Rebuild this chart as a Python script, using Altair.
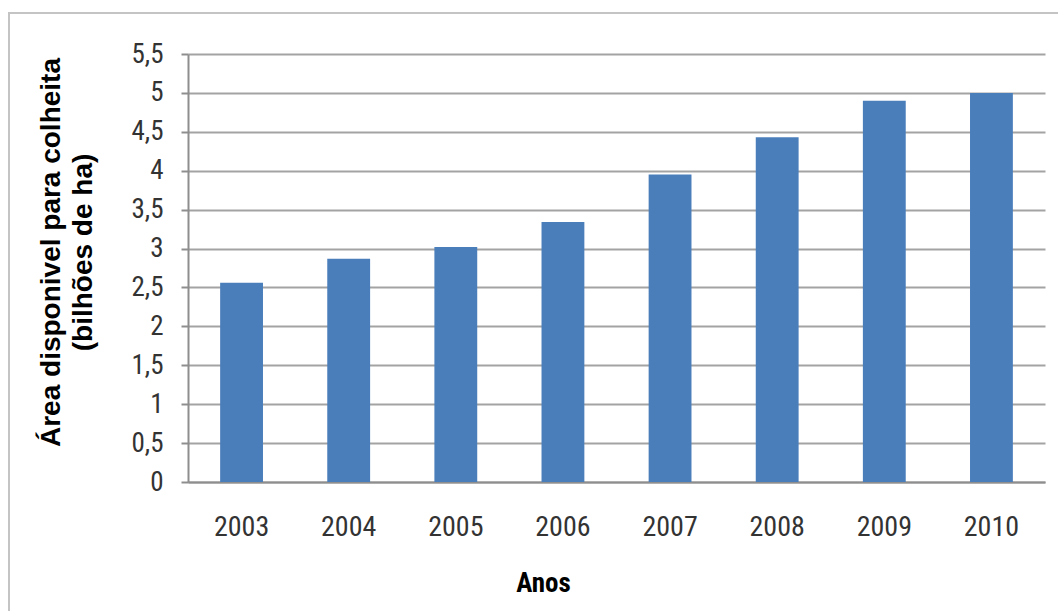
import altair as alt
import pandas as pd

# Harvest area by year (billions of ha)
anos = ["2003", "2004", "2005", "2006", "2007", "2008", "2009", "2010"]
area = [2.56, 2.87, 3.02, 3.34, 3.95, 4.43, 4.90, 5.00]
y_ticks = [0, 0.5, 1, 1.5, 2, 2.5, 3, 3.5, 4, 4.5, 5, 5.5]

df = pd.DataFrame({"ano": anos, "area": area})

PLOT_W, PLOT_H = 857, 428
LEFT, TOP = 188, 54

NUM_FONT = "Roboto Condensed, Roboto, sans-serif"
SANS = "Liberation Sans, Arial, sans-serif"
AXIS_GRAY = "#8e8e8e"

# light frame around the whole figure
frame = alt.Chart(pd.DataFrame({"k": [0]})).mark_rect(
    fill="transparent", stroke="#c4c4c4", strokeWidth=2
).encode(
    x=alt.value(9 - LEFT),
    x2=alt.value(1075 - LEFT),
    y=alt.value(13 - TOP),
    y2=alt.value(630 - TOP),
)

bars = alt.Chart(df).mark_bar(color="#4a7ebb").encode(
    x=alt.X(
        "ano:N",
        sort=anos,
        scale=alt.Scale(paddingInner=0.6, paddingOuter=0.3),
        axis=alt.Axis(
            labelAngle=0,
            labelFont=NUM_FONT,
            labelFontSize=28,
            labelColor="#333333",
            labelPadding=31,
            ticks=False,
            tickSize=0,
            domainColor=AXIS_GRAY,
            domainWidth=2,
            grid=False,
            title="Anos",
            titleFont=NUM_FONT,
            titleFontWeight="bold",
            titleFontSize=27,
            titleColor="#000000",
            titleAlign="center",
            titleBaseline="alphabetic",
            titleX=355,
            titleY=109,
        ),
    ),
    y=alt.Y(
        "area:Q",
        scale=alt.Scale(domain=[0, 5.5], nice=False, zero=True),
        axis=alt.Axis(
            values=y_ticks,
            labelExpr="replace(toString(datum.value), '.', ',')",
            labelFont=NUM_FONT,
            labelFontSize=27,
            labelColor="#333333",
            labelPadding=18,
            tickSize=7,
            tickWidth=2,
            tickColor=AXIS_GRAY,
            domainColor=AXIS_GRAY,
            domainWidth=2,
            grid=True,
            gridColor="#a3a3a3",
            gridWidth=2,
            title=["Área disponivel para colheita", "(bilhões de ha)"],
            titleFont=SANS,
            titleFontWeight="bold",
            titleFontSize=28,
            titleColor="#000000",
            titleAngle=270,
            titleAlign="center",
            titleBaseline="alphabetic",
            titleLineHeight=32,
            titleX=59 - LEFT,
            titleY=252 - TOP,
        ),
    ),
)

chart = alt.layer(frame, bars).properties(
    width=PLOT_W,
    height=PLOT_H,
    autosize=alt.AutoSizeParams(type="none"),
    padding={"left": LEFT, "top": TOP, "right": 1058 - LEFT - PLOT_W, "bottom": 611 - TOP - PLOT_H},
    background="white",
).configure_view(stroke=None)

chart.save("out.html", embed_options={"renderer": "svg", "actions": False})
